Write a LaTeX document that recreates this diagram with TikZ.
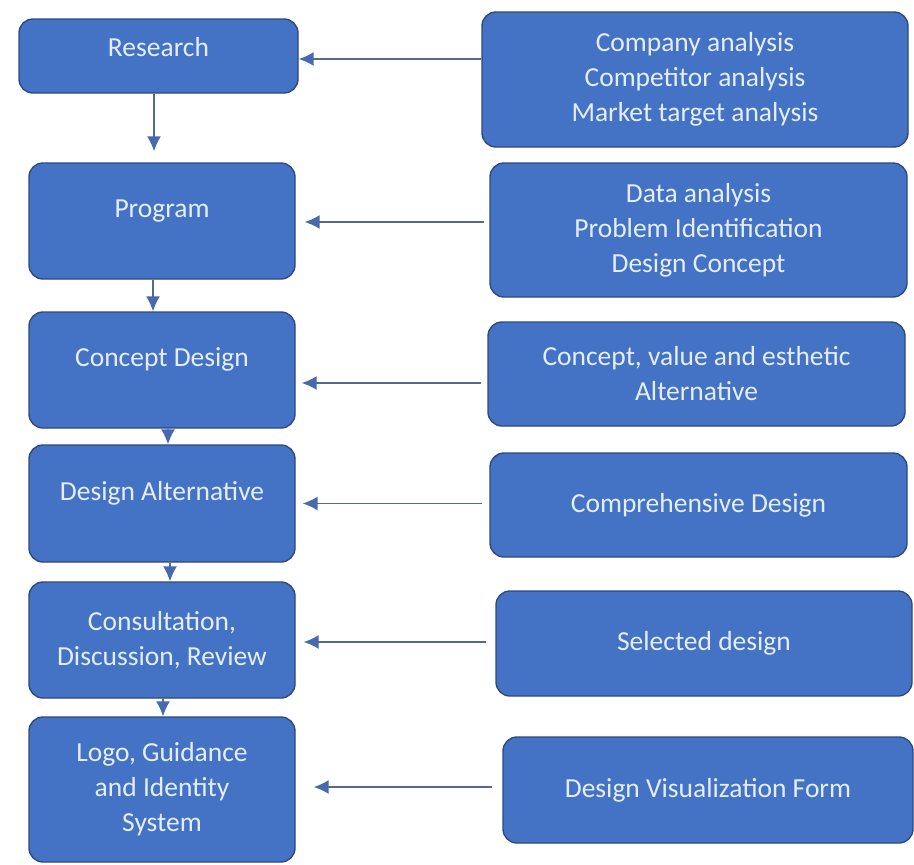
\documentclass[tikz,border=0pt]{standalone}
\usepackage{fontspec}
\setmainfont{Carlito}
\usetikzlibrary{arrows.meta}
\definecolor{boxfill}{HTML}{4472C4}
\definecolor{boxline}{HTML}{2E4A7E}
\definecolor{boxtext}{RGB}{228,238,250}
\definecolor{arrline}{RGB}{88,104,140}
\definecolor{arrhead}{RGB}{70,105,175}
\tikzset{
  box/.style={draw=boxline, line width=1.4pt, fill=boxfill, rounded corners=14pt,
    text=boxtext, align=center, inner sep=0pt,
    font=\fontsize{27.5}{35}\selectfont},
  raised/.style={text height=19pt, text depth=26pt},
  raisedsm/.style={text height=19pt, text depth=18pt},
  arr/.style={draw=arrline, line width=1.5pt,
    -{Latex[length=15pt,width=14pt,fill=arrhead,color=arrhead]}}
}
\begin{document}
\begin{tikzpicture}[x=1pt,y=-1pt]
\fill[white] (0,0) rectangle (914,865);
\useasboundingbox (0,0) rectangle (914,865);
% left column
\node[box,raisedsm,minimum width=279pt,minimum height=74pt] (l1) at (158.5,56) {Research};
\node[box,raised,minimum width=266pt,minimum height=116pt] (l2) at (162,221) {Program};
\node[box,raised,minimum width=266pt,minimum height=116pt] (l3) at (162,370) {Concept Design};
\node[box,raised,minimum width=266pt,minimum height=117pt] (l4) at (162,503.5) {Design Alternative};
\node[box,minimum width=266pt,minimum height=116pt] (l5) at (162,640) {Consultation,\\Discussion, Review};
\node[box,minimum width=266pt,minimum height=145pt] (l6) at (162,789.5) {Logo, Guidance\\and Identity\\System};
% right column
\node[box,minimum width=426pt,minimum height=135pt] (r1) at (695,79.5) {Company analysis\\Competitor analysis\\Market target analysis};
\node[box,minimum width=417pt,minimum height=134pt] (r2) at (698.5,230) {Data analysis\\Problem Identification\\Design Concept};
\node[box,minimum width=417pt,minimum height=104pt] (r3) at (696.5,374) {Concept, value and esthetic\\Alternative};
\node[box,minimum width=417pt,minimum height=104pt] (r4) at (698.5,505) {Comprehensive Design};
\node[box,minimum width=416pt,minimum height=105pt] (r5) at (704,643.5) {Selected design};
\node[box,minimum width=410pt,minimum height=106pt] (r6) at (708,790) {Design Visualization Form};
% vertical arrows
\draw[arr,shorten >=11pt] ([xshift=-4.5pt]l1.south) -- ([xshift=-4.5pt]l1.south |- l2.north);
\draw[arr] ([xshift=-9pt]l2.south) -- ([xshift=-9pt]l2.south |- l3.north);
\draw[arr] ([xshift=6pt]l3.south) -- ([xshift=6pt]l3.south |- l4.north);
\draw[arr] ([xshift=8pt]l4.south) -- ([xshift=8pt]l4.south |- l5.north);
\draw[arr] ([xshift=1pt]l5.south) -- ([xshift=1pt]l5.south |- l6.north);
% horizontal arrows
\draw[arr] ([yshift=-3pt]r1.west |- l1.east) -- ([yshift=-3pt]l1.east);
\draw[arr,shorten <=5pt,shorten >=9pt] ([yshift=-1pt]r2.west |- l2.east) -- ([yshift=-1pt]l2.east);
\draw[arr,shorten <=6pt,shorten >=6pt] ([yshift=-13pt]r3.west |- l3.east) -- ([yshift=-13pt]l3.east);
\draw[arr,shorten <=7pt,shorten >=7pt] (r4.west |- l4.east) -- (l4.east);
\draw[arr,shorten <=9pt,shorten >=8pt] ([yshift=-2pt]r5.west |- l5.east) -- ([yshift=-2pt]l5.east);
\draw[arr,shorten <=10pt,shorten >=18pt] ([yshift=2.5pt]r6.west |- l6.east) -- ([yshift=2.5pt]l6.east);
\end{tikzpicture}
\end{document}
